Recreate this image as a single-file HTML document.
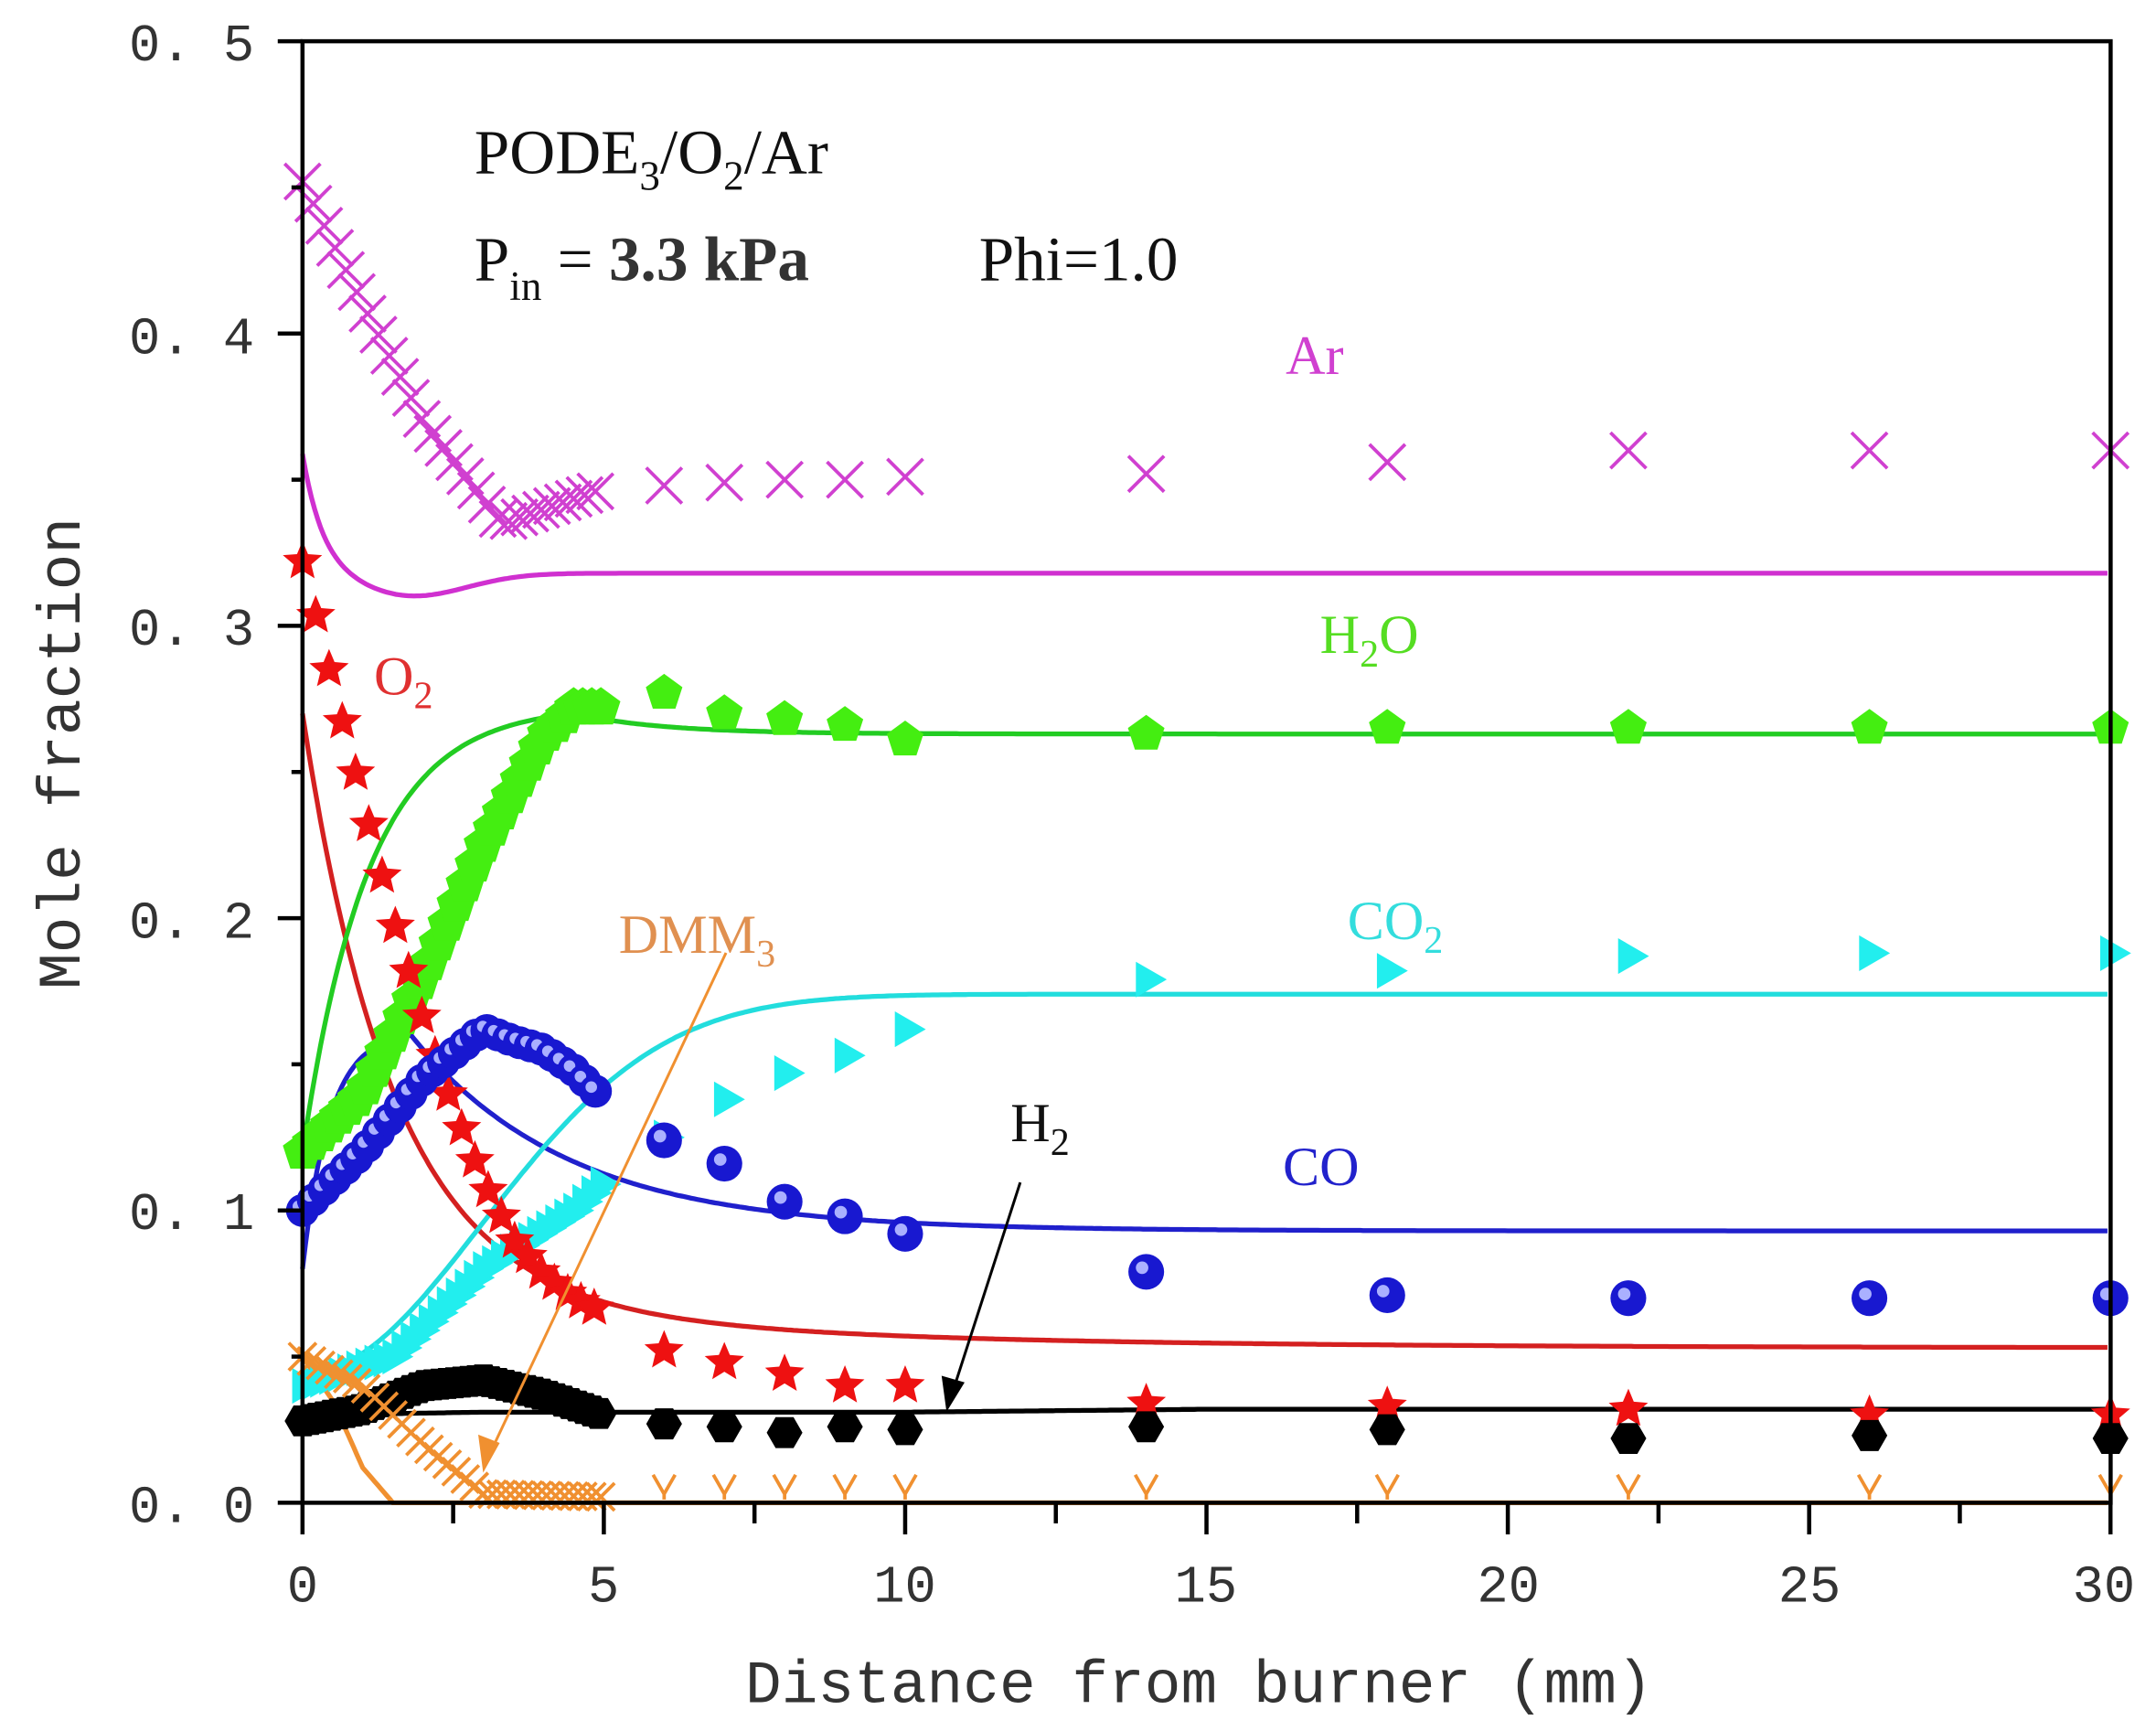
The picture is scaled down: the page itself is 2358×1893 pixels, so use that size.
<!DOCTYPE html>
<html><head><meta charset="utf-8"><style>
html,body{margin:0;padding:0;background:#fff;}
svg{display:block;}
</style></head><body>
<svg id="s" width="2358" height="1893" viewBox="0 0 1568 1259" preserveAspectRatio="none" xmlns="http://www.w3.org/2000/svg">
<rect width="1568" height="1259" fill="#fff"/>
<g id="data"></g>
<g id="axes" stroke="#000" stroke-width="3" fill="none">
<rect x="220" y="30" width="1315" height="1063"/>
</g>
<g font-family="Liberation Mono, DejaVu Sans Mono, monospace" font-size="38" fill="#333">
<text x="185" y="44" text-anchor="end">0. 5</text>
<text x="185" y="257" text-anchor="end">0. 4</text>
<text x="185" y="469" text-anchor="end">0. 3</text>
<text x="185" y="682" text-anchor="end">0. 2</text>
<text x="185" y="894" text-anchor="end">0. 1</text>
<text x="185" y="1107" text-anchor="end">0. 0</text>
<text x="220" y="1165" text-anchor="middle">0</text>
<text x="439" y="1165" text-anchor="middle">5</text>
<text x="658" y="1165" text-anchor="middle">10</text>
<text x="877" y="1165" text-anchor="middle">15</text>
<text x="1097" y="1165" text-anchor="middle">20</text>
<text x="1316" y="1165" text-anchor="middle">25</text>
<text x="1530" y="1165" text-anchor="middle">30</text>
<text x="872" y="1238" text-anchor="middle" font-size="44">Distance from burner (mm)</text>
<text transform="translate(58,548) rotate(-90)" text-anchor="middle" font-size="44">Mole fraction</text>
</g>
<g font-family="Liberation Serif, serif" font-size="46" fill="#111">
<text x="345" y="126">PODE<tspan font-size="30" dy="12">3</tspan><tspan dy="-12">/O</tspan><tspan font-size="30" dy="12">2</tspan><tspan dy="-12">/Ar</tspan></text>
<text x="345" y="204">P<tspan font-size="30" dy="14">in</tspan><tspan dy="-14"> = </tspan><tspan font-weight="bold" fill="#333">3.3 kPa</tspan></text>
<text x="712" y="204">Phi=1.0</text>
</g>
<g font-family="Liberation Serif, serif" font-size="40">
<text x="935" y="272" fill="#d040d0">Ar</text>
<text x="960" y="475" fill="#55dd22">H<tspan font-size="28" dy="10">2</tspan><tspan dy="-10">O</tspan></text>
<text x="272" y="505" fill="#e03030">O<tspan font-size="28" dy="10">2</tspan></text>
<text x="450" y="693" fill="#e09050">DMM<tspan font-size="28" dy="10">3</tspan></text>
<text x="980" y="683" fill="#33dddd">CO<tspan font-size="28" dy="10">2</tspan></text>
<text x="735" y="830" fill="#111">H<tspan font-size="28" dy="10">2</tspan></text>
<text x="933" y="862" fill="#2222cc">CO</text>
</g>
<g stroke-width="2" fill="none">
<line x1="528" y1="693" x2="355" y2="1060" stroke="#f09030"/>
<polygon points="352,1068 349,1045 362,1050" fill="#f09030" stroke="#f09030"/>
<line x1="742" y1="860" x2="692" y2="1015" stroke="#000"/>
<polygon points="689,1024 686,1002 700,1006" fill="#000" stroke="#000"/>
</g>
</svg>
<script>
var NS="http://www.w3.org/2000/svg";
function X(v){return 220+43.83*v;} function Y(v){return 1093-2126*v;}
var g=document.getElementById('data'), ax=document.getElementById('axes');
function el(t,a,p){var e=document.createElementNS(NS,t);for(var k in a)e.setAttribute(k,a[k]);(p||g).appendChild(e);return e;}
for(var i=0;i<=10;i++){var v=i*0.05,y=Y(v);el('line',{x1:i%2?212:202,x2:220,y1:y,y2:y},ax);}
for(var i=0;i<=12;i++){var x=X(i*2.5);el('line',{x1:x,x2:x,y1:1093,y2:i%2?1108:1116},ax);}
function interp(pts,x){for(var i=0;i<pts.length-1;i++){if(x<=pts[i+1][0]){var t=(x-pts[i][0])/(pts[i+1][0]-pts[i][0]);return pts[i][1]+t*(pts[i+1][1]-pts[i][1]);}}return pts[pts.length-1][1];}
function line(f,c){var d='';for(var x=0;x<=30;x+=0.05){d+=(d?'L':'M')+X(x).toFixed(1)+','+Y(f(x)).toFixed(1);}el('path',{d:d,stroke:c,'stroke-width':3.5,fill:'none'});}
function dense(pts,step){var r=[];for(var x=pts[0][0];x<=5.001;x+=step)r.push([x,interp(pts,x)]);return r;}
function mk(type,x,y,c,s){var cx=X(x),cy=Y(y);s=s||13;
 if(type=='x'){el('path',{d:'M'+(cx-s)+','+(cy-s)+'L'+(cx+s)+','+(cy+s)+'M'+(cx-s)+','+(cy+s)+'L'+(cx+s)+','+(cy-s),stroke:c,'stroke-width':2.5});}
 else if(type=='pent'||type=='hex'||type=='star'||type=='tri'){var n=type=='pent'?5:type=='hex'?6:type=='star'?10:3,p=[];
  for(var k=0;k<n;k++){var a,r=s;if(type=='tri'){a=k*2*Math.PI/3;}else{a=-Math.PI/2+k*2*Math.PI/n;}
   if(type=='star')r=k%2?s*0.45:s;if(type=='hex')a=k*Math.PI/3;
   p.push((cx+r*Math.cos(a)).toFixed(1)+','+(cy+r*Math.sin(a)).toFixed(1));}
  el('polygon',{points:p.join(' '),fill:c});}
 else if(type=='ball'){el('circle',{cx:cx,cy:cy,r:s,fill:c});el('circle',{cx:cx-3,cy:cy-3,r:s*0.35,fill:'#aab0ff'});}
 else if(type=='dmm'){el('path',{d:'M'+(cx-8)+','+(cy-14)+'L'+cx+','+cy+'L'+(cx+8)+','+(cy-14)+'M'+cx+','+cy+'L'+cx+','+(cy+4),stroke:c,'stroke-width':2.5,fill:'none'});}
}
line(function(x){return interp([[0,0.05],[0.5,0.035],[1,0.012],[1.5,0],[30,0]],x);},'#f09030');
line(function(x){return interp([[0,0.03],[3,0.031],[10,0.031],[15,0.032],[30,0.032]],x);},'#000');
line(function(x){return 0.053+0.197*Math.exp(-x/1.5)+0.02*Math.exp(-x/6);},'#d42020');
line(function(x){return x<1.8?0.08+0.08*(1-Math.exp(-x/0.45))/(1-Math.exp(-4)):0.093+0.067*Math.exp(-(x-1.8)/2.6);},'#2020cc');
line(function(x){return 0.174-0.13*Math.exp(-Math.pow(x/4.2,2));},'#22dddd');
line(function(x){return x<4.5?0.12+0.15*(1-Math.exp(-x/1.1))/(1-Math.exp(-4.5/1.1)):0.263+0.007*Math.exp(-(x-4.5)/1.5);},'#22cc22');
line(function(x){return 0.318+0.042*Math.exp(-x/0.35)-0.008*Math.exp(-Math.pow((x-1.8)/1.3,2));},'#d030d0');
var ar=[[0,0.452],[1,0.41],[2,0.37],[3.3,0.335],[4,0.34],[5,0.347]];
dense(ar,0.18).forEach(function(p){mk('x',p[0],p[1],'#d040d0',13);});
[[6,0.348],[7,0.349],[8,0.35],[9,0.35],[10,0.351],[14,0.352],[18,0.356],[22,0.36],[26,0.36],[30,0.36]].forEach(function(p){mk('x',p[0],p[1],'#d040d0',13);});
var h2o=[[0,0.12],[1,0.14],[2,0.18],[3,0.225],[4,0.262],[4.5,0.272],[5,0.272]];
dense(h2o,0.15).forEach(function(p){mk('pent',p[0],p[1],'#44ee11',15);});
[[6,0.277],[7,0.27],[8,0.268],[9,0.266],[10,0.261],[14,0.263],[18,0.265],[22,0.265],[26,0.265],[30,0.265]].forEach(function(p){mk('pent',p[0],p[1],'#44ee11',14);});
var co2=[[0,0.04],[1.5,0.05],[3,0.08],[4.5,0.1],[5,0.11]];
dense(co2,0.15).forEach(function(p){mk('tri',p[0],p[1],'#22eeee',15);});
[[6,0.125],[7,0.138],[8,0.147],[9,0.153],[10,0.162],[14,0.179],[18,0.182],[22,0.187],[26,0.188],[30,0.188]].forEach(function(p){mk('tri',p[0],p[1],'#22eeee',15);});
var o2=[[0,0.322],[0.5,0.28],[1,0.24],[1.5,0.2],[2,0.165],[2.5,0.135],[3,0.11],[3.5,0.09],[4,0.078],[4.5,0.07],[5,0.065]];
dense(o2,0.22).forEach(function(p){mk('star',p[0],p[1],'#ee1111',15);});
[[6,0.052],[7,0.048],[8,0.044],[9,0.04],[10,0.04],[14,0.034],[18,0.033],[22,0.032],[26,0.03],[30,0.03]].forEach(function(p){mk('star',p[0],p[1],'#ee1111',15);});
var h2=[[0,0.028],[1,0.032],[2,0.04],[3,0.042],[4,0.037],[5,0.03]];
dense(h2,0.12).forEach(function(p){mk('hex',p[0],p[1],'#000',13);});
[[6,0.027],[7,0.026],[8,0.024],[9,0.026],[10,0.025],[14,0.026],[18,0.025],[22,0.022],[26,0.023],[30,0.022]].forEach(function(p){mk('hex',p[0],p[1],'#000',13);});
var co=[[0,0.1],[1,0.12],[2,0.145],[3,0.162],[3.5,0.158],[4,0.155],[4.5,0.148],[5,0.138]];
dense(co,0.18).forEach(function(p){mk('ball',p[0],p[1],'#1818d0',12);});
[[6,0.124],[7,0.116],[8,0.103],[9,0.098],[10,0.092],[14,0.079],[18,0.071],[22,0.07],[26,0.07],[30,0.07]].forEach(function(p){mk('ball',p[0],p[1],'#1818d0',13);});
var dm=[[0,0.05],[1,0.04],[2,0.02],[3,0.003],[5,0.002]];
dense(dm,0.15).forEach(function(p){mk('x',p[0],p[1],'#f09030',10);});
[6,7,8,9,10,14,18,22,26,30].forEach(function(x){mk('dmm',x,0.003,'#f09030');});
</script>
</body></html>
